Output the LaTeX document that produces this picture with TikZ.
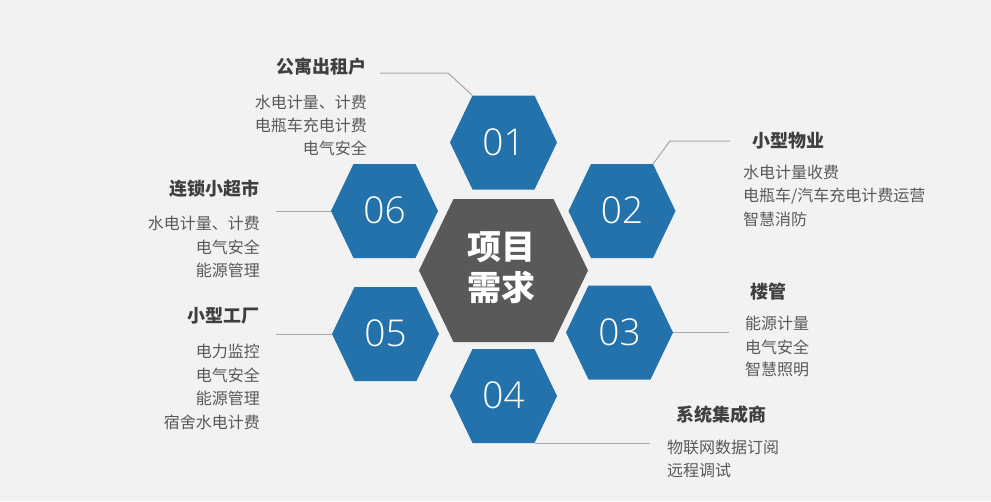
\documentclass[tikz,border=0pt]{standalone}
\usepackage{fontspec}
\setmainfont{Noto Sans CJK SC}
\IfFontExistsTF{Open Sans Light}{%
  \newfontfamily\numfont{Open Sans Light}\def\numsize{37}}{%
  \IfFontExistsTF{Noto Sans Light}{%
    \newfontfamily\numfont{Noto Sans Light}\def\numsize{37}}{%
    \IfFontExistsTF{Lato Light}{%
      \newfontfamily\numfont{Lato Light}\def\numsize{38}}{%
      \newfontfamily\numfont{Carlito}\def\numsize{42}}}}
\definecolor{hexblue}{HTML}{2372AB}
\definecolor{hexgray}{HTML}{595959}
\definecolor{bgcol}{HTML}{F2F2F2}
\definecolor{linecol}{HTML}{A6A6A6}
\definecolor{titlecol}{HTML}{3F3F3F}
\definecolor{itemcol}{HTML}{595959}
\newcommand\hexpath[4]{(-#2,0) coordinate (#1-l) -- (-#4,-#3) coordinate (#1-tl) -- (#4,-#3) coordinate (#1-tr) -- (#2,0) coordinate (#1-r) -- (#4,#3) coordinate (#1-br) -- (-#4,#3) coordinate (#1-bl) -- cycle}
\tikzset{
  bluehex/.style={fill=hexblue},
  numtxt/.style={text=white, inner sep=0pt, font=\numfont\fontsize{\numsize}{\numsize}\selectfont},
  centertxt/.style={text=white, inner sep=0pt, align=center, font=\bfseries\fontsize{34}{41}\selectfont},
  ttl/.style={text=titlecol, inner sep=0pt, font=\bfseries\fontsize{18}{18}\selectfont},
  itm/.style={text=itemcol, inner sep=0pt, font=\fontsize{16}{16}\selectfont},
  conn/.style={draw=linecol, line width=1pt}
}
\begin{document}
\begin{tikzpicture}[x=1pt,y=-1pt]
\fill[bgcol] (0,0) rectangle (991,501);
\useasboundingbox (0,0) rectangle (991,501);
% central hexagon
\fill[hexgray, shift={(503.5,270.5)}] \hexpath{hc}{84.5}{71.5}{50};
\node[centertxt] (ctr) at (501,268) {项目\\需求};
% blue hexagons
\fill[bluehex, shift={(503.5,142.5)}] \hexpath{h1}{53.5}{47}{31};
\fill[bluehex, shift={(622,211)}] \hexpath{h2}{53.5}{47}{31};
\fill[bluehex, shift={(619.5,332.5)}] \hexpath{h3}{53.5}{47}{31};
\fill[bluehex, shift={(503.5,396)}] \hexpath{h4}{53.5}{47}{31};
\fill[bluehex, shift={(385.5,334)}] \hexpath{h5}{53.5}{47}{31};
\fill[bluehex, shift={(384.5,211)}] \hexpath{h6}{53.5}{47}{31};
\node[numtxt] (n1) at (503.5,142) {01};
\node[numtxt] (n2) at (622,210.5) {02};
\node[numtxt] (n3) at (619.5,332) {03};
\node[numtxt] (n4) at (503.5,395.5) {04};
\node[numtxt] (n5) at (385.5,333.5) {05};
\node[numtxt] (n6) at (384.5,210.5) {06};
% connector ends
\coordinate (b1) at (448,73);
\coordinate (e1) at (380,73);
\coordinate (b2) at (670,141);
\coordinate (e2) at (730,141);
\coordinate (e3) at (729,332.5);
\coordinate (e4) at (650,443);
\coordinate (e5) at (276,334);
\coordinate (e6) at (276,211);
\draw[conn] (h1-tl) -- (b1) -- (e1);
\draw[conn] (h2-tr) -- (b2) -- (e2);
\draw[conn] (h3-r) -- (e3);
\draw[conn] (h4-br) -- (e4);
\draw[conn] (h5-l) -- (e5);
\draw[conn] (h6-l) -- (e6);
% group 01
\node[ttl, anchor=east] (t1) at (367,67) {公寓出租户};
\node[itm, anchor=east] (t1a) at (367,102) {水电计量、计费};
\node[itm, anchor=east] (t1b) at (367,125.5) {电瓶车充电计费};
\node[itm, anchor=east] (t1c) at (367,148.5) {电气安全};
% group 02
\node[ttl, anchor=west] (t2) at (752,141) {小型物业};
\node[itm, anchor=west] (t2a) at (743,172) {水电计量收费};
\node[itm, anchor=west] (t2b) at (743,196) {电瓶车/汽车充电计费运营};
\node[itm, anchor=west] (t2c) at (743,219) {智慧消防};
% group 03
\node[ttl, anchor=west] (t3) at (750,292) {楼管};
\node[itm, anchor=west] (t3a) at (745,323.5) {能源计量};
\node[itm, anchor=west] (t3b) at (745,347) {电气安全};
\node[itm, anchor=west] (t3c) at (745,369.5) {智慧照明};
% group 04
\node[ttl, anchor=west] (t4) at (676,415) {系统集成商};
\node[itm, anchor=west] (t4a) at (667,447) {物联网数据订阅};
\node[itm, anchor=west] (t4b) at (667,470) {远程调试};
% group 05
\node[ttl, anchor=east] (t5) at (260,316) {小型工厂};
\node[itm, anchor=east] (t5a) at (260,351) {电力监控};
\node[itm, anchor=east] (t5b) at (260,375) {电气安全};
\node[itm, anchor=east] (t5c) at (260,398.5) {能源管理};
\node[itm, anchor=east] (t5d) at (260,422) {宿舍水电计费};
% group 06
\node[ttl, anchor=east] (t6) at (260,189) {连锁小超市};
\node[itm, anchor=east] (t6a) at (260,223) {水电计量、计费};
\node[itm, anchor=east] (t6b) at (260,247) {电气安全};
\node[itm, anchor=east] (t6c) at (260,270) {能源管理};
\end{tikzpicture}
\end{document}
